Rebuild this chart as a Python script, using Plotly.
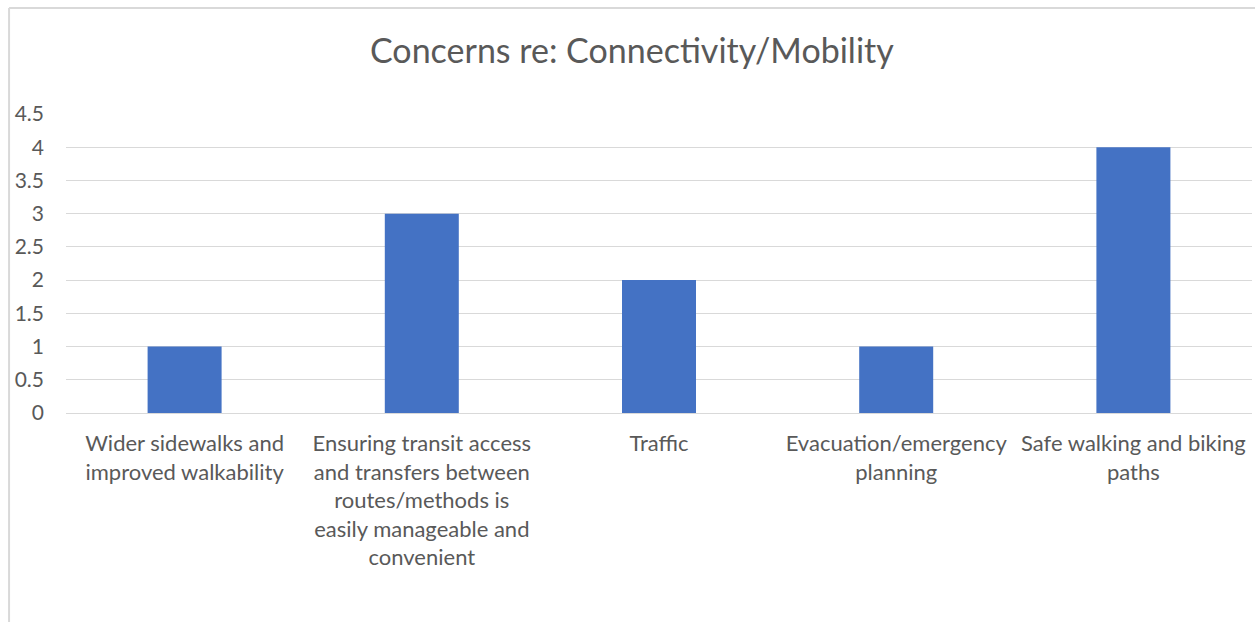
import plotly.graph_objects as go

# Survey responses: concerns about connectivity / mobility
categories = [
    "Wider sidewalks and<br>improved walkability",
    "Ensuring transit access<br>and transfers between<br>routes/methods is<br>easily manageable and<br>convenient",
    "Traffic",
    "Evacuation/emergency<br>planning",
    "Safe walking and biking<br>paths",
]
counts = [1, 3, 2, 1, 4]
y_ticks = [0, 0.5, 1, 1.5, 2, 2.5, 3, 3.5, 4, 4.5]
y_tick_labels = ["0", "0.5", "1", "1.5", "2", "2.5", "3", "3.5", "4", "4.5"]

text_color = "#595959"
grid_color = "#d9d9d9"
font_family = "Lato, 'Open Sans', sans-serif"

fig = go.Figure(
    go.Bar(
        x=categories,
        y=counts,
        marker=dict(color="#4472C4", line=dict(width=0)),
        hoverinfo="x+y",
    )
)

fig.update_layout(
    width=1255,
    height=622,
    margin=dict(l=66, r=3, t=114, b=209),
    paper_bgcolor="white",
    plot_bgcolor="white",
    bargap=0.688,
    showlegend=False,
    font=dict(family=font_family, color=text_color),
    title=dict(
        text="Concerns re: Connectivity/Mobility",
        x=0.5035,
        xanchor="center",
        y=1 - 51 / 622,
        yanchor="middle",
        font=dict(size=34, family=font_family, color=text_color),
    ),
    xaxis=dict(
        showgrid=False,
        showline=False,
        zeroline=False,
        ticks="",
        tickfont=dict(size=22, color=text_color),
        ticklabelstandoff=15,
        tickangle=0,
    ),
    yaxis=dict(
        range=[0, 4.5],
        tickvals=y_ticks,
        ticktext=y_tick_labels,
        showgrid=True,
        gridcolor=grid_color,
        gridwidth=1,
        zeroline=True,
        zerolinecolor=grid_color,
        zerolinewidth=1,
        showline=False,
        ticks="",
        tickfont=dict(size=21, color=text_color),
        ticklabelstandoff=21,
    ),
)

# Light chart-area frame (top and left edges)
frame = dict(color="#d9d9d9", width=2)
fig.add_shape(type="line", xref="paper", yref="paper",
              x0=-0.048, x1=1.05, y0=1.3545, y1=1.3545, line=frame)
fig.add_shape(type="line", xref="paper", yref="paper",
              x0=-0.048, x1=-0.048, y0=1.3545, y1=-0.75, line=frame)

fig.write_html("out.html")
